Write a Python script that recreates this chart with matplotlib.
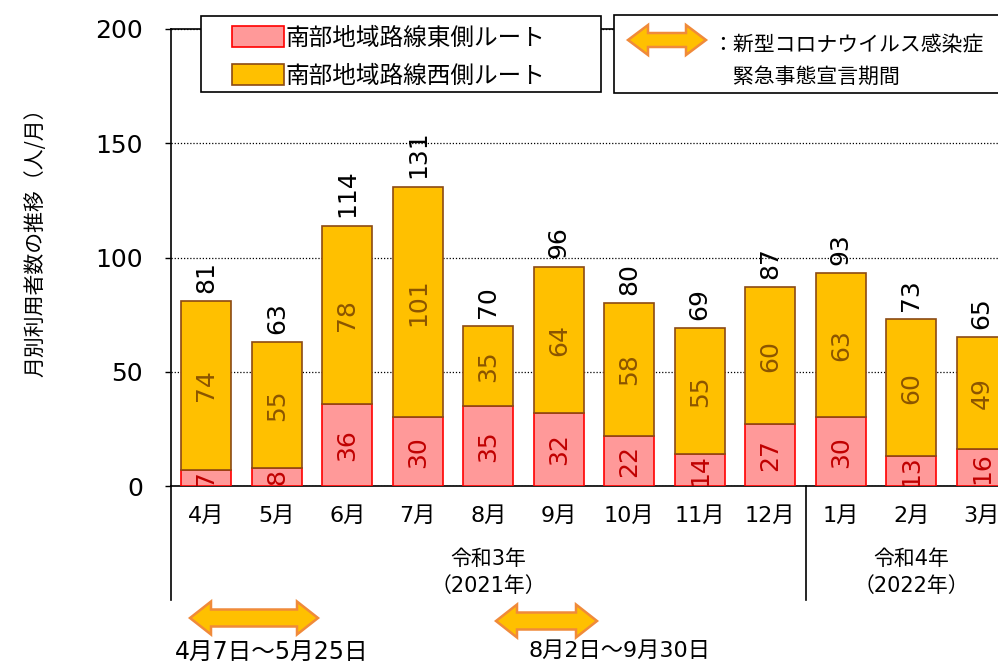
import numpy as np
import matplotlib
matplotlib.use('Agg')
import matplotlib.pyplot as plt
from matplotlib.patches import Polygon, Rectangle
import matplotlib.transforms as mtransforms

plt.rcParams['font.family'] = ['DejaVu Sans', 'Noto Sans CJK JP']

months = ['4月', '5月', '6月', '7月', '8月', '9月', '10月', '11月', '12月', '1月', '2月', '3月']
east = [7, 8, 36, 30, 35, 32, 22, 14, 27, 30, 13, 16]
west = [74, 55, 78, 101, 35, 64, 58, 55, 60, 63, 60, 49]
years = ['令和3年\n（2021年）', '令和4年\n（2022年）']
year_months = [9, 3]
periods = ['4月7日～5月25日', '8月2日～9月30日']

east_label = '南部地域路線東側ルート'
west_label = '南部地域路線西側ルート'
ylabel = '月別利用者数の推移（人/月）'
arrow_note = '：新型コロナウイルス感染症\n\u3000緊急事態宣言期間'

W, H = 998, 663
CJK = ['Noto Sans CJK JP', 'DejaVu Sans']


def px(x, y):
    # figure pixel (from top-left) -> figure fraction
    return x / W, 1 - y / H


def darrow(fig, x0, x1, yc, h, shaft, head):
    pts = [(x0, yc), (x0 + head, yc - h / 2), (x0 + head, yc - shaft / 2),
           (x1 - head, yc - shaft / 2), (x1 - head, yc - h / 2), (x1, yc),
           (x1 - head, yc + h / 2), (x1 - head, yc + shaft / 2),
           (x0 + head, yc + shaft / 2), (x0 + head, yc + h / 2)]
    poly = Polygon([px(a, b) for a, b in pts], closed=True, transform=fig.transFigure,
                   facecolor='#FFC000', edgecolor='#F08A3A', lw=1.8, zorder=10)
    fig.patches.append(poly)


fig = plt.figure(figsize=(W / 100, H / 100), dpi=100)
ax = fig.add_axes([171 / W, (H - 486) / H, (1017 - 171) / W, (486 - 29) / H])

x = np.arange(len(months))
east = np.array(east)
west = np.array(west)
total = east + west

b1 = ax.bar(x, east, width=0.71, color='#FF9999', edgecolor='#FF0000', lw=1.2,
            label=east_label, zorder=3)
b2 = ax.bar(x, west, width=0.71, bottom=east, color='#FFC000', edgecolor='#8B4A14', lw=1.2,
            label=west_label, zorder=3)

for i in range(len(x)):
    ax.text(x[i], east[i] / 2, str(east[i]), rotation=90, ha='center', va='center',
            fontsize=18, color='#C00000', zorder=4, clip_on=True)
    ax.text(x[i], east[i] + west[i] / 2, str(west[i]), rotation=90, ha='center', va='center',
            fontsize=18, color='#8B5500', zorder=4, clip_on=True)
    ax.annotate(str(total[i]), (x[i], total[i]), xytext=(0, 6), textcoords='offset points',
                rotation=90, ha='center', va='bottom', fontsize=18, color='black')

ax.set_xlim(-0.5, len(months) - 0.5)
ax.set_ylim(0, 200)
ax.set_yticks([0, 50, 100, 150, 200])
ax.yaxis.grid(True, linestyle=(0, (1, 1.5)), color='black', lw=0.9, zorder=0)
ax.tick_params(axis='y', labelsize=18, pad=16, length=4, width=1)
ax.set_xticks(x)
ax.set_xticklabels(months)
ax.tick_params(axis='x', labelsize=16, length=0, pad=14)
ax.spines['right'].set_visible(False)
for s in ['left', 'top', 'bottom']:
    ax.spines[s].set_linewidth(1.2)
ax.set_ylabel(ylabel, fontsize=15, family=CJK)
ax.yaxis.set_label_coords(-0.147, 0.545)

# year groups under the month labels
trans = mtransforms.blended_transform_factory(ax.transData, ax.transAxes)
edge = -0.5
for label, n in zip(years, year_months):
    ax.plot([edge, edge], [0, -0.25], color='black', lw=1.2, transform=trans, clip_on=False)
    ax.text(edge + n / 2, -0.19, label, transform=trans, ha='center', va='center',
            fontsize=15, linespacing=1.45)
    edge += n

# legend for bars
fig.patches.append(Rectangle(px(201, 92), 400 / W, 76 / H, transform=fig.transFigure,
                             facecolor='white', edgecolor='black', lw=1.2, zorder=5))
leg = fig.legend(handles=[b1, b2], loc='upper left', bbox_to_anchor=px(211, 5),
                 frameon=False, prop={'family': CJK, 'size': 17},
                 handlelength=2.2, handleheight=0.95, handletextpad=0.05, labelspacing=0.62)
leg.set_zorder(6)

# legend for emergency periods
fig.patches.append(Rectangle(px(614, 93), 400 / W, 78 / H, transform=fig.transFigure,
                             facecolor='white', edgecolor='black', lw=1.2, zorder=5))
darrow(fig, 628, 706, 40, 30, 14, 20)
fig.text(*px(712, 61), arrow_note, fontsize=15, family=CJK, ha='left', va='center',
         linespacing=1.6, zorder=11)

# emergency periods below the chart
darrow(fig, 190, 318, 618, 33, 17, 21)
darrow(fig, 496, 597, 621, 33, 17, 21)
fig.text(*px(272, 652), periods[0], fontsize=17, ha='center', va='center')
fig.text(*px(620, 651), periods[1], fontsize=16, ha='center', va='center')

fig.savefig('out.png', dpi=100)
